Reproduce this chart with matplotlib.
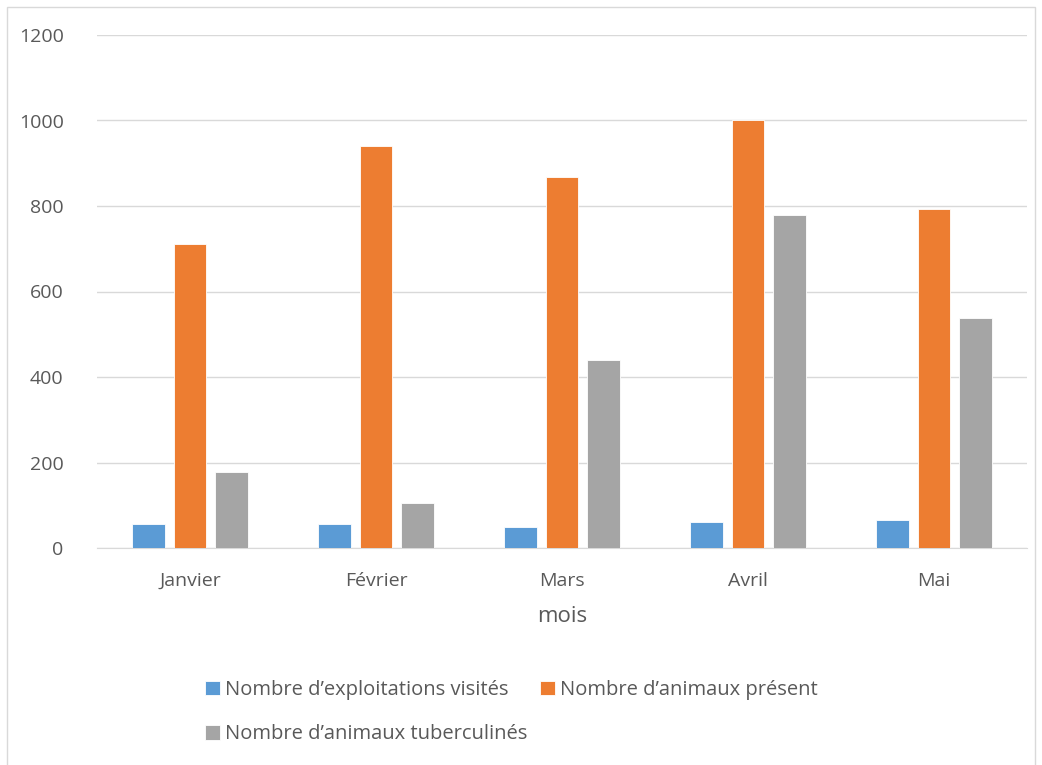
import numpy as np
import matplotlib.pyplot as plt
from matplotlib.patches import Rectangle

mois = ['Janvier', 'Février', 'Mars', 'Avril', 'Mai']
exploitations = [55, 56, 48, 61, 66]
animaux_present = [710, 940, 868, 1002, 793]
animaux_tuberculines = [177, 105, 440, 779, 538]

series = [
    ('Nombre d\u2019exploitations visités', exploitations, '#5b9bd5'),
    ('Nombre d\u2019animaux présent', animaux_present, '#ed7d31'),
    ('Nombre d\u2019animaux tuberculinés', animaux_tuberculines, '#a5a5a5'),
]

plt.rcParams['font.family'] = ['Open Sans', 'DejaVu Sans']
txt = '#595959'

fig = plt.figure(figsize=(10.42, 7.65), dpi=100)
ax = fig.add_axes([97 / 1042, 1 - 548 / 765, 930 / 1042, 513 / 765])

x = np.arange(len(mois))
w = 0.177
step = 0.222
handles = []
for i, (name, vals, col) in enumerate(series):
    b = ax.bar(x + (i - 1) * step, vals, w, color=col, label=name,
               edgecolor='white', linewidth=0.6, zorder=3)
    handles.append(b)

ax.set_xlim(-0.5, len(mois) - 0.5)
ax.set_ylim(0, 1200)
ax.set_yticks(range(0, 1201, 200))
ax.set_xticks(x)
ax.set_xticklabels(mois)
ax.grid(axis='y', color='#d9d9d9', linewidth=1, zorder=0)
for s in ['top', 'right', 'left']:
    ax.spines[s].set_visible(False)
ax.spines['bottom'].set_color('#d9d9d9')
ax.tick_params(length=0, labelsize=14, colors=txt, pad=17)
ax.tick_params(axis='y', pad=24)
ax.set_xlabel('mois', fontsize=16, color=txt, labelpad=12)

# legend rows: blue, orange / gray (column-major fill)
order = [handles[0], handles[2], handles[1]]
fig.legend(handles=order, loc='upper left', bbox_to_anchor=(187 / 1042, 1 - 662 / 765),
           ncol=2, frameon=False, fontsize=14.5, labelcolor=txt,
           handlelength=0.75, handleheight=0.75, handletextpad=0.25,
           columnspacing=0.6, labelspacing=1.2)

fig.patches.append(Rectangle((7 / 1042, -0.05), 1028 / 1042, 1 - 7 / 765 + 0.05,
                             transform=fig.transFigure, fill=False,
                             edgecolor='#d9d9d9', linewidth=1))

fig.savefig('out.png', dpi=100)
